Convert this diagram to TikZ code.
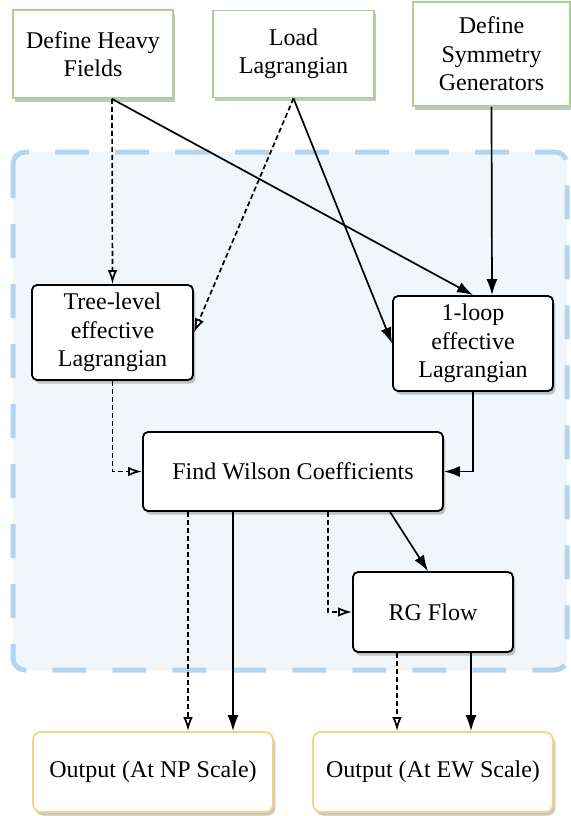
\documentclass[tikz,border=0pt]{standalone}
\usepackage{fontspec}
\setmainfont{Liberation Serif}
\usepackage{xcolor}
\usetikzlibrary{positioning}
\usetikzlibrary{arrows.meta}
\usetikzlibrary{shadows}
\definecolor{inputgreen}{HTML}{A6D48E}
\definecolor{outputyellow}{HTML}{F2D680}
\definecolor{regionblue}{HTML}{B4D5EF}
\definecolor{regionfill}{HTML}{F1F6FB}
\tikzset{basebox/.style={align=center, inner sep=2pt,
font=\fontsize{12}{14.25}\selectfont, fill=white,
drop shadow={shadow xshift=1.2pt, shadow yshift=-1.8pt, opacity=0.45}}}
\tikzset{inbox/.style={basebox, draw=inputgreen, line width=0.9pt},
stepbox/.style={basebox, draw=black, line width=0.9pt, rounded corners=2.5pt},
outbox/.style={basebox, draw=outputyellow, line width=0.9pt, rounded corners=4pt}}

\begin{document}
\begin{tikzpicture}[x=0.5pt, y=-0.5pt,
	solidarrow/.style={line width=0.85pt, -{Latex[length=8pt,width=5.5pt]}},
	dasharrow/.style={line width=0.85pt, dash pattern=on 2.5pt off 1.5pt, -{Latex[open,length=7pt,width=4.8pt]}}]
	\useasboundingbox (0,0) rectangle (571,816);
	% matching region
	\draw[regionblue, fill=regionfill, line width=2.5pt, dash pattern=on 17pt off 13pt, rounded corners=6pt]
		(13,152) rectangle (567,670);
	% inputs
	\node[inbox, minimum width=80pt, minimum height=44pt] (heavy) at (93,54) {Define Heavy\\Fields};
	\node[inbox, minimum width=80.5pt, minimum height=43.5pt] (load) at (293.5,54) {Load\\Lagrangian};
	\node[inbox, minimum width=78.5pt, minimum height=52pt] (sym) at (491.5,54) {Define\\Symmetry\\Generators};
	% steps
	\node[stepbox, minimum width=80.5pt, minimum height=47.5pt] (tree) at (112.5,332.5) {Tree-level\\effective\\Lagrangian};
	\node[stepbox, minimum width=80pt, minimum height=47.5pt] (loop) at (473,343.5) {1-loop\\effective\\Lagrangian};
	\node[stepbox, minimum width=150pt, minimum height=39.5pt] (find) at (293,471.5) {Find Wilson Coefficients};
	\node[stepbox, minimum width=80pt, minimum height=40pt] (rg) at (433,612) {RG Flow};
	% outputs
	\node[outbox, minimum width=120pt, minimum height=40pt] (np) at (153,772) {Output (At NP Scale)};
	\node[outbox, minimum width=120pt, minimum height=40pt] (ew) at (433,772) {Output (At EW Scale)};

	\draw[dasharrow] ([xshift=9.5pt]heavy.south) -- (tree.north);
	\draw[solidarrow] ([xshift=9.5pt]heavy.south) -- (loop.north);
	\draw[dasharrow] (load.south) -- (tree.east);
	\draw[solidarrow] (load.south) -- (loop.west);
	\draw[solidarrow] (sym.south) -- ([xshift=9.5pt]loop.north);
	\draw[solidarrow] (loop.south) |- (find.east);
	\draw[dasharrow] (tree.south) |- (find.west);
	\draw[solidarrow] ([xshift=48.5pt]find.south) -- ([xshift=-2.5pt]rg.north);
	\draw[dasharrow] ([xshift=17.5pt]find.south) |- (rg.west);
	\draw[dasharrow] ([xshift=-52.5pt]find.south) -- ([xshift=17.5pt]np.north);
	\draw[solidarrow] ([xshift=-30pt]find.south) -- ([xshift=40pt]np.north);
	\draw[dasharrow] ([xshift=-18pt]rg.south) -- ([xshift=-18pt]ew.north);
	\draw[solidarrow] ([xshift=19pt]rg.south) -- ([xshift=19pt]ew.north);
\end{tikzpicture}
\end{document}
